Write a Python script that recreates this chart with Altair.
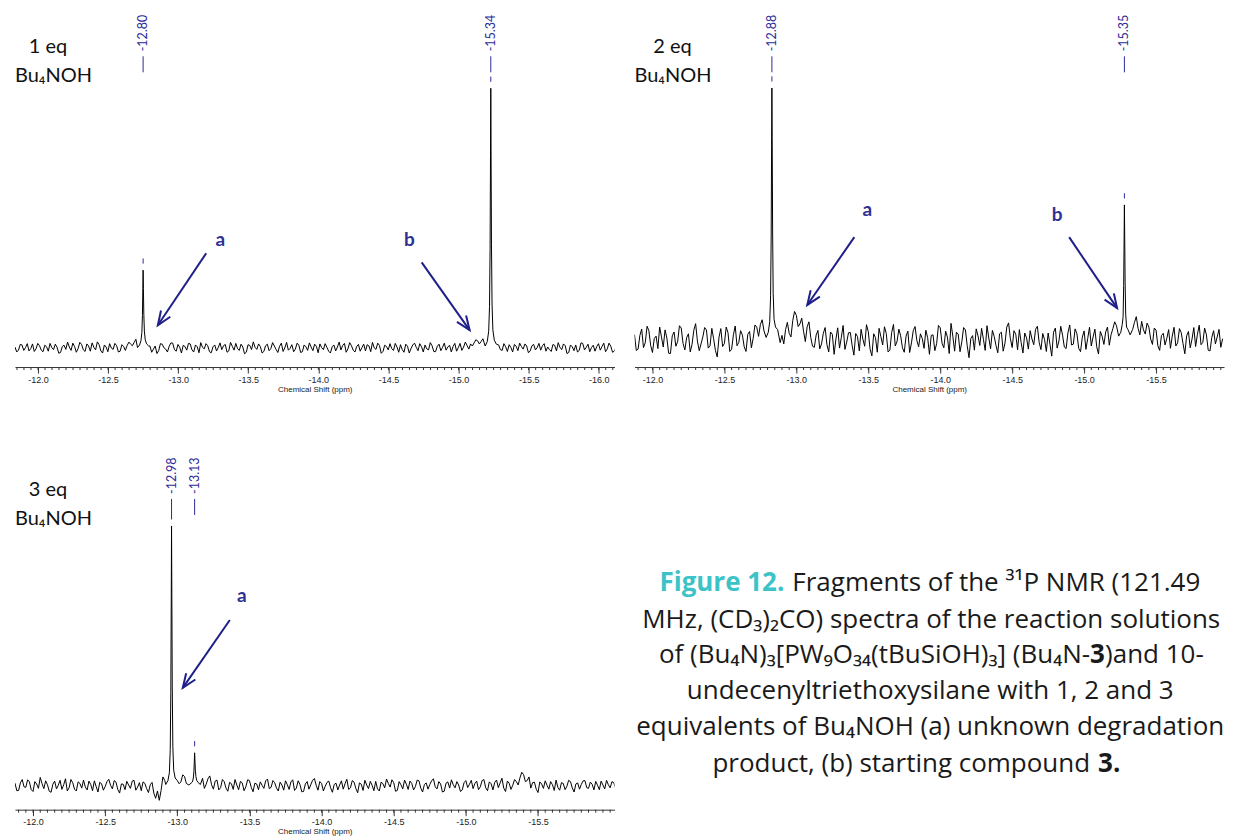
import math
import pandas as pd
import altair as alt

STEP = 0.025
PEAK_OFFSETS = [-0.04, -0.025, -0.015, -0.009, -0.005, -0.002, 0.0, 0.002, 0.005, 0.009, 0.015, 0.025, 0.04]

# ---------------- panel 1 : 1 eq ----------------
p1_start = -11.836
p1_noise = [
    0.4, -0.8, 1.2, 0.2, -1.1, 1.6, -0.3, 0.9, -1.4, 0.5,
    1.8, -0.6, 0.3, -1.7, 1.1, 2.3, -0.9, 0.6, -0.2, 1.4,
    -1.3, 0.8, 2.0, -0.7, 1.3, -1.9, 0.4, 1.7, -0.5, 0.9,
    -1.2, 0.6, 1.0, 1.5, 2.2, 3.0, 0.0, 0.0, -0.5, -1.6,
    0.8, -1.0, 1.5, -0.4, 0.7, 1.9, -1.2, 0.3, 1.1, -0.8,
    1.6, -1.5, 0.5, 2.1, -0.3, 0.9, -1.8, 1.2, 0.2, -0.6,
    1.4, -1.1, 0.7, 1.8, -0.9, 0.4, -1.6, 1.0, 2.4, -0.5,
    0.6, -1.3, 1.5, -0.2, 0.8, -1.7, 1.9, 0.1, -0.8, 1.3,
    -0.4, 1.1, -1.4, 0.5, 2.0, -1.0, 0.7, 1.6, -0.6, 0.3,
    -1.9, 1.2, 0.4, -0.7, 1.8, -0.3, 0.9, -1.5, 1.4, 0.2,
    -1.1, 0.8, 2.2, -0.5, 1.0, -1.3, 0.6, 1.7, -0.9, 0.4,
    1.3, -1.6, 0.7, -0.2, 1.9, -1.0, 0.5, 1.2, -0.7, 0.9,
    -1.4, 1.5, 0.3, -0.8, 1.1, 0.6, -1.2, 1.8, 0.4, 1.0,
    1.6, 2.0, 2.8, 2.5, 0.0, 0.0, 0.0, 0.0, 1.2, -0.9,
    0.5, 1.3, -1.5, 0.7, 1.9, -0.4, 0.8, -1.1, 1.4, 0.2,
    -0.8, 1.7, 0.4, -1.3, 1.0, 2.1, -0.6, 0.9, -1.7, 0.5,
    1.2, -0.9, 1.8, 0.3, -1.4, 1.1, 0.6, -0.8, 1.9, -0.3, 0.7, -1.2,
]
p1_noise_mid = [
    -1.5, 1.4, -0.9, 1.7, -0.2, -1.3, 1.8, -0.8, 1.1, -1.2,
    0.2, 1.5, -2.0, 0.6, -0.5, 0.4, 1.9, -1.6, 2.2, -0.7,
    1.6, -1.2, 0.3, 2.4, -1.1, 1.2, -1.4, 0.0, 1.8, -1.5,
    1.3, -0.9, 2.3, 0.9, 3.4, 2.0, 0.0, 0.0, 0.8, -0.4,
    -2.1, 1.7, 0.1, -1.5, 2.0, -0.6, 1.4, -1.9, 0.6, 1.8,
    -0.7, 1.2, -1.8, 0.3, 1.7, -1.4, 0.5, -1.1, 2.0, 0.9,
    -1.6, 2.2, -0.8, -0.2, 1.5, -2.2, 1.3, -0.6, 0.3, 1.6,
    -1.9, 0.9, -1.0, 2.1, -0.5, 0.7, -1.3, 2.2, -0.1, -1.4,
    1.9, -1.7, 1.2, -0.9, 0.4, 1.5, -1.8, 0.2, 1.7, -1.2,
    0.5, -1.1, 2.3, 1.0, -1.6, 2.1, -0.8, 0.6, -1.2, 1.5,
    1.3, -1.4, 0.1, 1.9, -2.0, 1.1, -0.7, -0.2, 1.8, -1.6,
    -0.6, 1.5, -1.9, 1.2, 0.3, 1.7, -1.5, -0.3, 2.1, -1.3,
    0.7, -1.0, 1.9, 0.4, -1.5, 1.8, 0.2, -0.9, 2.3, -0.4,
    0.8, 3.2, 1.6, 3.6, 0.0, 0.0, 0.0, 2.4, -0.6, 1.7,
    -1.3, 0.2, 1.4, -1.0, 0.6, 1.6, -1.8, 0.9, -0.7, 1.8,
    0.9, -1.2, -0.6, 1.4, -1.1, 0.3, 1.6, -2.1, 1.2, -1.0,
    -1.5, 2.0, -0.7, 1.5, 0.2, -1.2, 1.7, 0.6, -1.4, 1.9, -1.6, 0.4,
]
p1_peak_ppm = [-12.75, -15.23]
p1_peak_labels = ["-12.80", "-15.34"]
p1_peak_shapes = [
    [0.8, 1.6, 3.2, 6.5, 13.0, 23.0, 30.0, 23.0, 12.5, 6.0, 3.0, 1.2, 0.2],
    [1.5, 3.0, 7.0, 17.0, 40.0, 76.0, 100.0, 74.0, 38.0, 16.0, 6.5, 2.5, 0.8],
]
p1_major = [-12.0, -12.5, -13.0, -13.5, -14.0, -14.5, -15.0, -15.5, -16.0]

# ---------------- panel 2 : 2 eq ----------------
p2_start = -11.875
p2_noise = [
    2.1, -3.5, 4.2, -1.0, 3.6, -4.8, 1.5, 5.0, -2.7, 0.8,
    -5.2, 3.1, -0.6, 4.6, -3.8, 2.4, -1.7, 6.3, -4.1, 1.2,
    3.9, -2.2, 0.5, -6.5, 4.4, -1.3, 2.8, -3.6, 5.4, -0.9,
    1.9, -4.4, 3.3, 0.7, 4.9, 6.0, 3.5, 0.0, 0.0, 0.0,
    0.0, 1.8, 4.0, 2.6, 7.5, 9.5, 6.2, 3.4, 5.1, 1.0,
    -2.8, 3.7, -1.5, 4.8, -4.6, 2.2, 0.4, -3.1, 5.6, -0.8,
    2.9, -5.8, 1.3, 4.1, -2.4, 3.2, -6.1, 0.9, 4.5, -1.9,
    2.5, -3.9, 6.0, -0.5, 1.6, -4.7, 3.4, -1.1, 5.2, -2.6,
    0.6, 3.8, -5.5, 2.0, -1.4, 4.7, -3.0, 1.1, 6.4, -4.3,
    2.3, -0.7, 3.9, -6.8, 1.7, 4.3, -2.1, 0.3, 5.5, -3.4,
    1.4, -4.9, 3.0, -1.2, 6.6, -2.9, 2.2, 4.0, -5.0, 0.8,
    3.6, -1.8, 5.3, -3.7, 0.2, 2.7, -6.2, 4.6, -0.4, 1.9,
    -3.3, 5.8, -1.6, 2.4, -4.5, 3.5, 0.6, -2.3, 4.2, -5.4,
    1.5, 3.1, -2.0, 4.4, 5.5, 0.0, 0.0, 0.0, 0.0, 6.8,
    4.5, 7.2, 2.3, 5.0, -1.7, 3.8, -4.0, 2.6, 0.7, -3.2,
    4.9, -1.1, 2.8, -5.3, 3.3, 0.4, -2.5, 5.7, -0.9, 2.0, -4.2, 3.6, 1.2, -2.8,
]
p2_noise_mid = [
    -4.0, 1.8, -2.9, 5.3, -2.1, 0.6, -3.3, 1.2, 3.9, -5.1,
    1.6, -2.4, 5.5, -1.3, 0.9, -4.6, 3.8, -0.4, -1.5, 4.8,
    -3.1, 4.5, -4.0, 1.1, -2.5, 5.0, -4.4, 2.0, -2.2, 3.6,
    -2.6, 2.2, -3.0, 5.8, 1.4, 7.8, 2.0, 0.0, 0.0, 0.0,
    -1.0, -1.5, 6.8, 1.2, 11.0, 5.2, 8.4, -0.6, 7.0, -2.4,
    1.9, -3.4, 2.6, -1.8, 3.1, -5.5, 4.7, 1.0, -3.6, 2.8,
    -2.0, 2.5, -4.2, 0.3, 5.9, -3.5, 2.4, -4.7, 1.3, 5.1,
    -4.6, 2.9, -2.3, 4.2, -3.0, 1.5, -4.8, 3.6, -0.2, 2.4,
    -3.2, 0.9, 1.8, -4.1, 5.6, -1.2, 3.4, -5.2, 1.5, 3.0,
    -4.5, 4.8, -2.2, 0.6, -3.9, 1.6, 4.5, -4.0, 0.8, 3.7,
    -2.1, 2.4, -4.3, 5.0, 0.5, 3.6, -3.8, -1.0, 2.7, -3.5,
    0.4, 4.1, -0.9, 2.5, -4.4, -1.6, 3.0, -3.1, 5.3, -2.7,
    2.8, -1.9, 4.3, -3.2, 1.1, -3.6, 4.9, 1.2, -2.6, 3.3,
    -1.7, 5.0, 2.1, 7.0, 3.2, 0.0, 0.0, 0.0, 4.1, 9.0,
    2.0, 3.9, 6.5, 0.4, 4.6, -2.2, 1.7, -1.9, 4.0, 1.5,
    -2.3, 4.4, -1.4, 1.6, -3.0, 4.8, 2.2, -1.8, 4.6, -3.9, 1.0, -1.5, 4.1, 0.5,
]
p2_peak_ppm = [-12.83, -15.28]
p2_peak_labels = ["-12.88", "-15.35"]
p2_peak_shapes = [
    [4.0, 5.0, 8.0, 18.0, 42.0, 78.0, 97.0, 75.0, 40.0, 17.0, 7.0, 3.0, 1.0],
    [2.0, 4.0, 5.0, 10.0, 22.0, 40.0, 52.0, 39.0, 21.0, 9.0, 6.0, 3.0, 1.5],
]
p2_major = [-12.0, -12.5, -13.0, -13.5, -14.0, -14.5, -15.0, -15.5]

# ---------------- panel 3 : 3 eq ----------------
p3_start = -11.875
p3_noise = [
    1.0, -1.8, 2.4, -0.6, 1.5, -2.2, 0.7, 3.2, -1.1, 0.4,
    -2.5, 1.8, 0.2, -1.4, 2.7, -0.8, 1.2, -2.0, 0.9, 2.2,
    -1.6, 0.5, 1.9, -2.4, 0.8, -0.3, 2.5, -1.2, 1.4, -2.8,
    0.6, 1.7, -1.0, 2.1, -0.5, -1.9, 0.9, -2.6, 1.3, -4.8,
    -5.6, 3.4, 0.0, 0.0, 0.0, 0.0, 1.5, 3.6, 1.8, 0.0,
    0.0, 0.0, 2.9, 0.6, 3.8, -1.3, 2.2, -0.7, 1.6, -2.1,
    0.8, 2.4, -1.5, 1.1, -0.4, 2.0, -2.3, 0.7, 1.5, -1.0,
    2.6, -0.6, 1.2, -2.0, 0.3, 1.9, -1.4, 2.3, -0.9, 0.5,
    -2.2, 1.6, 0.4, 2.8, -1.7, 0.9, -0.2, 1.8, -2.5, 1.0,
    0.3, -1.3, 2.5, -0.8, 1.4, -2.7, 0.6, 2.1, -1.1, 0.2,
    1.7, -2.0, 0.8, 2.6, -0.5, 1.2, -1.8, 0.4, 2.2, -1.4,
    0.9, -0.3, 1.9, -2.4, 1.1, 0.5, 2.7, -1.2, 0.7, -2.1,
    1.5, 2.3, -0.8, 0.3, -1.6, 2.0, 0.6, -1.1, 1.8, -0.4,
    2.4, -1.9, 0.8, 1.3, -0.7, 2.9, -2.2, 1.0, 0.2, 1.6,
    3.1, 4.3, 2.0, -0.9, 1.4, -2.6, 0.7, 1.9, -1.3, 0.4,
    2.2, -1.7, 0.9, -0.2, 1.6, -2.4, 1.1, 0.5, 2.0, -1.0,
    0.6, 1.7, -1.5, 0.3, 2.1, -0.8, 1.2,
]
p3_noise_mid = [
    -1.9, 1.1, -0.4, 2.3, -1.5, 1.6, -1.0, 0.8, 1.9, -2.1,
    0.6, -1.2, 2.1, 0.4, -2.0, 2.4, -1.3, 1.5, -0.9, -0.5,
    1.8, -1.9, -0.3, 1.3, -1.7, 1.6, 0.2, 2.0, -1.4, 0.7,
    -1.5, 0.3, 1.8, -1.7, 1.2, 1.5, -1.1, 0.4, -2.9, -2.0,
    -1.8, 2.1, 0.0, 0.0, 0.0, 0.8, 4.2, 0.9, 2.9, 0.0,
    0.0, 0.5, -1.0, 2.7, 0.4, 1.8, -1.6, 2.4, -0.9, 1.3,
    -1.4, 0.3, 1.7, -1.9, 2.3, -0.6, 1.0, -1.5, 0.2, 1.9,
    -1.1, 2.0, -0.9, 1.4, -1.7, 0.4, 1.5, -1.8, 1.9, -2.3,
    0.7, -1.3, 2.1, 0.2, 1.6, -2.0, 1.3, -0.8, 0.5, -1.6,
    1.9, 0.8, -1.4, 2.0, -1.0, 1.1, -1.8, 0.3, 1.7, -1.9,
    -1.2, 1.4, -0.8, 0.9, 2.3, -2.1, 1.6, -1.2, 0.6, 1.8,
    -1.6, 2.2, -0.9, 0.5, -1.3, 1.9, -0.4, 1.6, -2.4, 1.0,
    -0.9, 0.4, 1.6, -2.2, 1.2, -0.7, 2.1, 0.9, -1.5, 2.0,
    -0.8, 1.5, -1.6, 2.2, 1.1, -0.9, 1.8, -1.4, 2.4, 0.3,
    5.2, 1.6, 3.4, 1.2, -1.3, 1.5, -1.0, 0.2, 1.6, -1.8,
    -0.6, 1.2, -1.5, 2.1, -0.8, 0.7, -1.3, 1.9, -0.7, 1.4,
    -1.6, 0.2, 1.8, -1.2, 0.4, 1.6, -0.9,
]
p3_peak_ppm = [-12.96, -13.12]
p3_peak_labels = ["-12.98", "-13.13"]
p3_peak_shapes = [
    [2.0, 3.0, 6.0, 15.0, 38.0, 74.0, 100.0, 72.0, 36.0, 14.0, 5.0, 2.0, 0.5],
    [0.5, 1.2, 2.0, 3.5, 6.0, 10.0, 12.7, 9.5, 5.5, 3.0, 1.5, 1.0, 0.3],
]
p3_major = [-12.0, -12.5, -13.0, -13.5, -14.0, -14.5, -15.0, -15.5]

MINOR = [round(-11.85 - 0.05 * i, 2) for i in range(86)]

# annotation arrows (start ppm, start value, end ppm, end value) and letters
p1_arrows = [(-13.20, 36.5, -12.855, 8.8), (-14.737, 33.0, -15.079, 6.9)]
p1_letters = [("a", -13.30, 41.5), ("b", -14.65, 41.5)]
p2_arrows = [(-13.403, 39.6, -13.076, 13.5), (-14.896, 39.6, -15.229, 12.3)]
p2_letters = [("a", -13.493, 50.0), ("b", -14.812, 48.0)]
p3_arrows = [(-13.364, 63.8, -13.038, 37.7)]
p3_letters = [("a", -13.447, 73.0)]

eq_labels = [["1 eq", "Bu\u2084NOH"], ["2 eq", "Bu\u2084NOH"], ["3 eq", "Bu\u2084NOH"]]

caption_l1a = "Figure 12."
caption_l1b = "Fragments of the \u00b3\u00b9P NMR (121.49"
caption_l2 = "MHz, (CD\u2083)\u2082CO) spectra of the reaction solutions"
caption_l3a = "of (Bu\u2084N)\u2083[PW\u2089O\u2083\u2084(tBuSiOH)\u2083] (Bu\u2084N-"
caption_l3b = "3"
caption_l3c = ")and 10-"
caption_l4 = "undecenyltriethoxysilane with 1, 2 and 3"
caption_l5 = "equivalents of Bu\u2084NOH (a) unknown degradation"
caption_l6a = "product, (b) starting compound"
caption_l6b = "3."

BLUE = "#2b2b99"
ARROW = "#1f1f8a"
FONT = "Lato"
CAPFONT = "Open Sans"
AXFONT = "Liberation Sans"
ARROW_PATH = "M-0.4,1L0,0L0.4,1"


def build_spectrum(start, noise, noise_mid, peaks, shapes):
    rows = []
    pts = [(start - i * STEP, v) for i, v in enumerate(noise)]
    pts += [(start - (i + 0.5) * STEP, v) for i, v in enumerate(noise_mid)]
    for ppm, v in pts:
        if all(abs(ppm - c) >= 0.045 for c in peaks):
            rows.append((ppm, v))
    for c, shape in zip(peaks, shapes):
        for off, v in zip(PEAK_OFFSETS, shape):
            rows.append((c + off, v))
    rows.sort(key=lambda r: r[0])
    return pd.DataFrame(rows, columns=["ppm", "val"])


def panel(cfg):
    W, H = cfg["w"], cfg["h"]
    L = cfg["start"]
    R = L - W / cfg["k"]
    yb, yt = cfg["ybot"], cfg["ytop"]
    xs = alt.Scale(domain=[R, L], reverse=True, nice=False, zero=False)
    ys = alt.Scale(domain=[yb, yt], nice=False, zero=False)
    spec = build_spectrum(cfg["start"], cfg["noise"], cfg["mid"], cfg["peaks"], cfg["shapes"])

    axis = alt.Axis(
        values=cfg["major"], tickSize=6, tickWidth=1, tickColor="#333",
        domainColor="#333", domainWidth=1, grid=False,
        labelExpr="replace(format(datum.value, '.1f'), '\u2212', '-')",
        labelFont=AXFONT, labelFontSize=9, labelColor="#222", labelPadding=2,
        labelOverlap=False, labelFlush=False,
        title="Chemical Shift (ppm)", titleFont=AXFONT, titleFontSize=8,
        titleFontWeight="normal", titleColor="#222", titlePadding=1,
    )
    line = alt.Chart(spec).mark_line(color="black", strokeWidth=1, clip=True).encode(
        x=alt.X("ppm:Q", scale=xs, axis=axis),
        y=alt.Y("val:Q", scale=ys, axis=None),
    )
    minor = alt.Chart(pd.DataFrame({"ppm": [t for t in MINOR if R <= t <= L]})).mark_rule(
        color="#333", strokeWidth=1
    ).encode(x="ppm:Q", y=alt.value(H), y2=alt.value(H + 3))

    tops = [max(s) for s in cfg["shapes"]]
    pk = pd.DataFrame({
        "ppm": cfg["peaks"], "label": cfg["labels"],
        "lo": [t + 2.5 for t in tops], "hi": [t + 4.5 for t in tops],
    })
    pk_text = alt.Chart(pk).mark_text(
        angle=270, align="left", baseline="middle", font=FONT, fontSize=12.5, color=BLUE
    ).encode(x="ppm:Q", y=alt.value(41), text="label:N")
    pk_line = alt.Chart(pk).mark_rule(color=BLUE, strokeWidth=1).encode(
        x="ppm:Q", y=alt.value(46), y2=alt.value(62))
    pk_tip = alt.Chart(pk).mark_rule(color=BLUE, strokeWidth=1).encode(
        x="ppm:Q", y=alt.Y("lo:Q", axis=None), y2="hi:Q")

    k = cfg["k"]
    pxu = H / (yt - yb)
    arr_rows = []
    for (ps, vs, pe, ve) in cfg["arrows"]:
        dx = (ps - pe) * k
        dy = (vs - ve) * pxu
        ang = math.degrees(math.atan2(dx, -dy)) % 360
        arr_rows.append({"ppm": ps, "val": vs, "ppm2": pe, "val2": ve, "ang": ang})
    arr = pd.DataFrame(arr_rows)
    shaft = alt.Chart(arr).mark_rule(color=ARROW, strokeWidth=2).encode(
        x="ppm:Q", x2="ppm2:Q", y=alt.Y("val:Q", axis=None), y2="val2:Q")
    head = alt.Chart(arr).mark_point(
        shape=ARROW_PATH, filled=False, strokeWidth=2, size=784, color=ARROW, opacity=1
    ).encode(x="ppm2:Q", y=alt.Y("val2:Q", axis=None), angle=alt.Angle("ang:Q", scale=None))

    let = pd.DataFrame(cfg["letters"], columns=["t", "ppm", "val"])
    letters = alt.Chart(let).mark_text(
        font=FONT, fontSize=19, fontWeight="bold", color="#2e3192", baseline="middle"
    ).encode(x="ppm:Q", y=alt.Y("val:Q", axis=None), text="t:N")

    eq1 = alt.Chart(pd.DataFrame({"t": [cfg["eq"][0]]})).mark_text(
        font=FONT, fontSize=20, color="#111", align="center", baseline="middle"
    ).encode(text="t:N", x=alt.value(cfg["eqx"]), y=alt.value(37))
    eq2 = alt.Chart(pd.DataFrame({"t": [cfg["eq"][1]]})).mark_text(
        font=FONT, fontSize=20, color="#111", align="left", baseline="middle"
    ).encode(text="t:N", x=alt.value(0), y=alt.value(66))

    return alt.layer(line, minor, pk_line, pk_text, pk_tip, shaft, head, letters, eq1, eq2).properties(
        width=W, height=H)


H = 357
p1 = panel(dict(w=600, h=H, start=p1_start, k=140.3, ybot=-7.3, ytop=130.0,
                noise=p1_noise, mid=p1_noise_mid, peaks=p1_peak_ppm, shapes=p1_peak_shapes,
                labels=p1_peak_labels, major=p1_major, arrows=p1_arrows, letters=p1_letters,
                eq=eq_labels[0], eqx=33))
p2 = panel(dict(w=590, h=H, start=p2_start, k=144.0, ybot=-10.4, ytop=126.9,
                noise=p2_noise, mid=p2_noise_mid, peaks=p2_peak_ppm, shapes=p2_peak_shapes,
                labels=p2_peak_labels, major=p2_major, arrows=p2_arrows, letters=p2_letters,
                eq=eq_labels[1], eqx=38))
p3 = panel(dict(w=600, h=H, start=p3_start, k=144.4, ybot=-9.2, ytop=128.1,
                noise=p3_noise, mid=p3_noise_mid, peaks=p3_peak_ppm, shapes=p3_peak_shapes,
                labels=p3_peak_labels, major=p3_major, arrows=p3_arrows, letters=p3_letters,
                eq=eq_labels[2], eqx=33))


def ctext(t, x, y, align="center", bold=False, color="#1a1a1a"):
    return alt.Chart(pd.DataFrame({"t": [t]})).mark_text(
        font=CAPFONT, fontSize=26, fontWeight="bold" if bold else "normal", color=color,
        align=align, baseline="middle"
    ).encode(text="t:N", x=alt.value(x), y=alt.value(y))


caption = alt.layer(
    ctext(caption_l1a, 150, 130, align="right", bold=True, color="#3cc3c8"),
    ctext(caption_l1b, 158, 130, align="left"),
    ctext(caption_l2, 297, 167),
    ctext(caption_l3a, 456, 202, align="right"),
    ctext(caption_l3b, 456, 202, align="left", bold=True),
    ctext(caption_l3c, 471, 202, align="left"),
    ctext(caption_l4, 296, 238),
    ctext(caption_l5, 296, 274),
    ctext(caption_l6a, 456, 311, align="right"),
    ctext(caption_l6b, 464, 311, align="left", bold=True),
).properties(width=590, height=H)

row1 = alt.hconcat(p1, p2, spacing=20)
row2 = alt.hconcat(p3, caption, spacing=20)
chart = alt.vconcat(row1, row2, spacing=60).properties(
    padding={"left": 7, "top": 2, "right": 0, "bottom": 0}, background="white"
).configure_view(stroke="transparent", strokeWidth=0)

chart.save("out.html", embed_options={"renderer": "svg", "actions": False})
